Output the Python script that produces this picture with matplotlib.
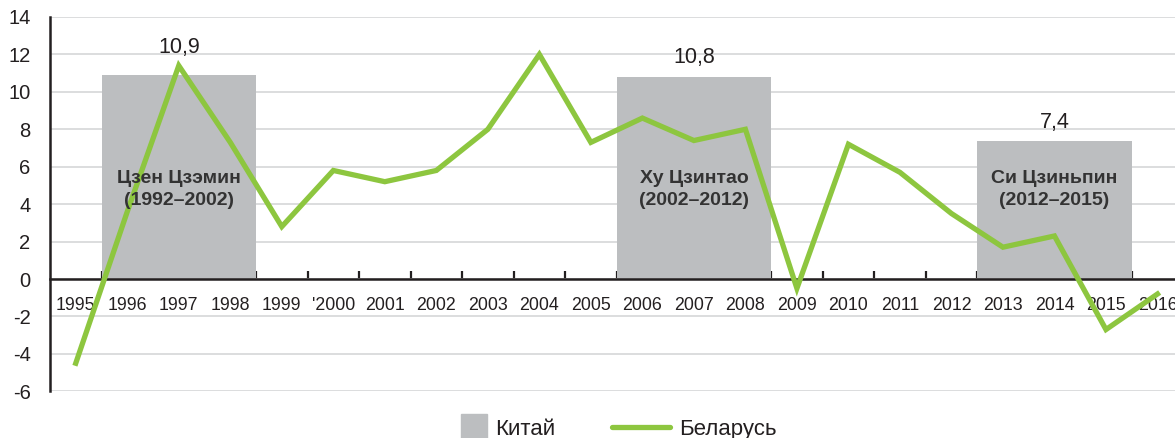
import matplotlib.pyplot as plt
import numpy as np
from matplotlib.lines import Line2D
from matplotlib.patches import Patch, Rectangle
from matplotlib.legend_handler import HandlerPatch

years = ['1995', '1996', '1997', '1998', '1999', "'2000", '2001', '2002', '2003', '2004', '2005',
         '2006', '2007', '2008', '2009', '2010', '2011', '2012', '2013', '2014', '2015', '2016']
belarus = [-4.5, 3.6, 11.4, 7.3, 2.8, 5.8, 5.2, 5.8, 8.0, 12.0, 7.3,
           8.6, 7.4, 8.0, -0.5, 7.2, 5.7, 3.5, 1.7, 2.3, -2.7, -0.8]

china_center = [2, 12, 19]          # index of the middle year of each period
china_values = [10.9, 10.8, 7.4]
china_labels = ['10,9', '10,8', '7,4']
leaders = ['Цзен Цзэмин\n(1992–2002)', 'Ху Цзинтао\n(2002–2012)', 'Си Цзиньпин\n(2012–2015)']

plt.rcParams['font.family'] = ['Liberation Sans', 'DejaVu Sans']
plt.rcParams['axes.unicode_minus'] = False

green = '#8dc63f'
gray = '#bcbec0'
dark = '#231f20'

fig = plt.figure(figsize=(11.75, 4.38), dpi=100)
ax = fig.add_axes([50 / 1175, 1 - 391.3 / 438, 1 - 50 / 1175, (391.3 - 17) / 438])

x = np.arange(len(years))

ax.bar(china_center, china_values, width=3, color=gray, zorder=2)
ax.plot(x, belarus, color=green, lw=3.8, solid_joinstyle='miter', zorder=4)

offsets = [20, 14, 13]
for c, v, lab, off in zip(china_center, china_values, china_labels, offsets):
    ax.annotate(lab, (c, v), xytext=(0, off), textcoords='offset points',
                ha='center', va='center', fontsize=15.5, color=dark)

for c, name in zip(china_center, leaders):
    ax.text(c, 4.8, name, ha='center', va='center', fontsize=14,
            fontweight='bold', color='#333333', linespacing=1.4, zorder=5)

ax.set_xlim(-0.5, 21.34)
ax.set_ylim(-6, 14)
ax.set_yticks(np.arange(-6, 15, 2))
ax.yaxis.grid(True, color='#d9dadb', lw=1.3, zorder=0)
ax.set_axisbelow(True)
ax.tick_params(axis='y', length=0, pad=14, labelsize=14.5, colors=dark)

for s in ['top', 'right']:
    ax.spines[s].set_visible(False)
ax.spines['left'].set_linewidth(1.8)
ax.spines['left'].set_color(dark)
ax.spines['bottom'].set_position(('data', 0))
ax.spines['bottom'].set_linewidth(1.8)
ax.spines['bottom'].set_color(dark)
ax.spines['bottom'].set_zorder(3)

ax.set_xticks(np.arange(0.5, len(years) - 0.5, 1))
ax.set_xticklabels([])
ax.tick_params(axis='x', which='major', direction='in', length=6, width=1.6, color=dark)
ax.set_xticks(x, minor=True)
ax.set_xticklabels(years, minor=True)
ax.tick_params(axis='x', which='minor', length=0, pad=13, labelsize=12.8, labelcolor=dark)


def square(legend, orig_handle, xdescent, ydescent, width, height, fontsize):
    s = 18.5
    return Rectangle((-xdescent + width - s, -ydescent + (height - s) / 2), s, s)


handles = [Patch(color=gray), Line2D([], [], color=green, lw=3.8, solid_capstyle='round')]
fig.legend(handles, ['Китай', 'Беларусь'], loc='center', bbox_to_anchor=(0.5128, 0.02),
           ncol=2, frameon=False, fontsize=16, handlelength=2.6, columnspacing=2.55,
           handletextpad=0.4, labelcolor=dark,
           handler_map={Patch: HandlerPatch(patch_func=square)})

fig.savefig('out.png', dpi=100)
